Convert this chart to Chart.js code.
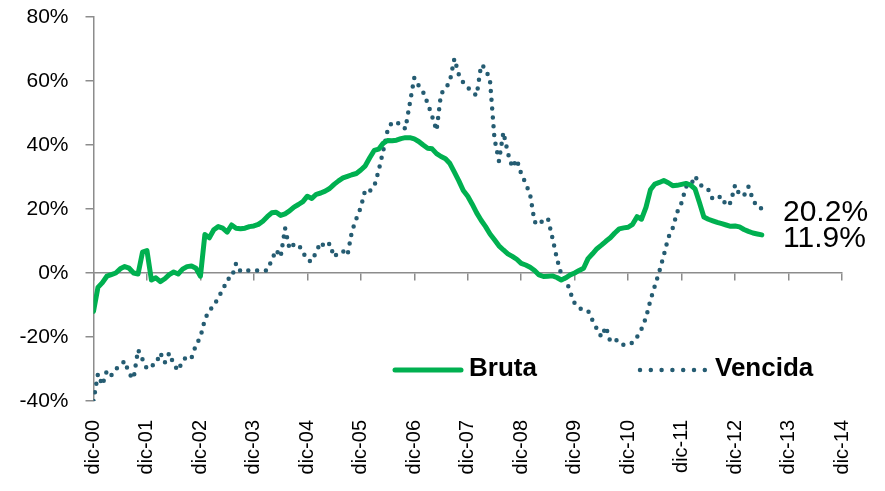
<!DOCTYPE html>
<html>
<head>
<meta charset="utf-8">
<script src="https://cdn.jsdelivr.net/npm/chart.js@4/dist/chart.umd.min.js"></script>
<style>
  html, body { margin: 0; padding: 0; background: #ffffff; }
  #wrap { width: 885px; height: 491px; }
</style>
</head>
<body>
<div id="wrap"><canvas id="c" width="885" height="491"></canvas></div>
<script>
// Monthly series, dic-00 (index 0) to jun-13 (index 150)
const tickLabels = ['dic-00','dic-01','dic-02','dic-03','dic-04','dic-05','dic-06','dic-07','dic-08','dic-09','dic-10','dic-11','dic-12','dic-13','dic-14'];
const seriesNames = ['Bruta', 'Vencida'];
const bruta = [
  -12, -4.5, -3, -1, -0.5, 0, 1.3, 2, 1.5, 0, -0.3, 6.5,
  7, -2.2, -1.5, -2.7, -1.8, -0.5, 0.3, -0.3, 1.2, 2, 2.2, 1.5,
  -1, 12, 11, 13.5, 14.5, 14, 12.8, 15, 14, 13.8, 14, 14.5,
  14.7, 15.2, 16.2, 17.6, 18.8, 19, 18, 18.5, 19.4, 20.6, 21.4, 22.3,
  24, 23.3, 24.6, 25, 25.6, 26.4, 27.7, 28.8, 29.7, 30.2, 30.7, 31.1,
  32.2, 33.5, 36, 38.3, 38.7, 40.5, 41.4, 41.3, 41.5, 42, 42.3, 42.3,
  41.9, 41.1, 40, 39, 38.8, 37.3, 36.4, 35.7, 34.2, 31.5, 28.8, 25.8,
  24, 21.5, 18.8, 16.5, 14.5, 12.2, 10.4, 8.5, 7.2, 6, 5.2, 4.3,
  3, 2.5, 1.8, 0.8, -0.6, -1.1, -1, -0.9, -1.4, -2.2, -1.5, -0.6,
  0, 0.8, 1.5, 4.5, 6, 7.6, 8.7, 9.9, 11, 12.5, 13.8, 14.1,
  14.3, 15.2, 17.6, 16.8, 20.5, 26, 27.8, 28.3, 28.9, 28.2, 27.3, 27.4,
  27.7, 28, 27.5, 26.3, 22, 17.5, 16.8, 16.3, 15.8, 15.4, 15, 14.6,
  14.7, 14.4, 13.6, 13, 12.5, 12.2, 11.9
];
const vencida = [
  -40, -31.5, -35, -30.5, -32, -30, -29, -27.5, -31.5, -33, -24, -27,
  -30, -29, -28.5, -25, -28, -25, -28.5, -30.5, -27.5, -26, -26.5, -22.5,
  -20, -14.5, -11.5, -10.5, -7.5, -5.5, -2, -1.5, 3, 0.5, 0.7, 0.8,
  0.8, 0.8, 0.8, 0.8, 4, 7.2, 5, 14, 7.5, 9, 9, 6.5,
  4, 3.6, 6.7, 9.6, 8, 9.2, 5, 6.5, 6.8, 5.5, 13, 17,
  20.5, 26, 25.6, 27, 32, 38, 44.5, 47.2, 46.8, 46.7, 45, 53,
  61, 58.5, 56.5, 53, 49, 44.5, 56, 57.5, 60, 67, 62, 59.5,
  58, 56.5, 55.5, 65, 64, 60, 42, 35, 44, 37.5, 33, 35.5,
  31, 28, 24.5, 16, 15, 16.7, 17, 11, 4.6, -0.5, -1.8, -6,
  -9.5, -11, -11.5, -11.8, -14.8, -17.5, -20, -16.8, -21.5, -21, -21, -22.5,
  -22.3, -21.8, -20, -17.5, -14, -8.5, -4, 0.5, 5.5, 11, 14, 19,
  22, 27, 27.2, 30.3, 28, 26.5, 26, 23, 23.5, 24, 21, 22,
  27.5, 24.5, 24.2, 27, 23, 20.5, 20.2
];
const yTicks = { min: -40, max: 80, step: 20 };

const FONT = "'Liberation Sans', Arial, sans-serif";
const GREEN = '#00B050';
const TEAL = '#255C72';
const AXIS = '#8C8C8C';

const toPoints = arr => arr.map((v, i) => ({ x: i, y: v }));

const legendAndEndLabels = {
  id: 'legendAndEndLabels',
  afterDraw(chart) {
    const ctx = chart.ctx;
    const ds = chart.data.datasets;
    ctx.save();
    // Legend: Bruta
    ctx.strokeStyle = ds[0].borderColor;
    ctx.lineWidth = 5;
    ctx.lineCap = 'round';
    ctx.setLineDash([]);
    ctx.beginPath(); ctx.moveTo(395, 370); ctx.lineTo(461, 370); ctx.stroke();
    // Legend: Vencida
    ctx.strokeStyle = ds[1].borderColor;
    ctx.lineWidth = 4.5;
    ctx.setLineDash([0, 10.8]);
    ctx.beginPath(); ctx.moveTo(640, 370); ctx.lineTo(706, 370); ctx.stroke();
    ctx.setLineDash([]);
    ctx.fillStyle = '#000';
    ctx.font = "bold 26px " + FONT;
    ctx.textBaseline = 'middle';
    ctx.textAlign = 'left';
    ctx.fillText(ds[0].label, 469, 369);
    ctx.fillText(ds[1].label, 715, 369);
    // End value labels
    ctx.font = "30px " + FONT;
    ctx.textBaseline = 'alphabetic';
    const lastV = vencida[vencida.length - 1];
    const lastB = bruta[bruta.length - 1];
    ctx.fillText(lastV.toFixed(1) + '%', 783, 221);
    ctx.fillText(lastB.toFixed(1) + '%', 783, 247);
    ctx.restore();
  }
};

new Chart(document.getElementById('c'), {
  type: 'line',
  data: {
    datasets: [
      {
        label: seriesNames[0],
        data: toPoints(bruta),
        borderColor: GREEN,
        backgroundColor: GREEN,
        borderWidth: 5,
        borderJoinStyle: 'round',
        borderCapStyle: 'round',
        pointRadius: 0,
        tension: 0,
        order: 1
      },
      {
        label: seriesNames[1],
        data: toPoints(vencida),
        borderColor: TEAL,
        backgroundColor: TEAL,
        borderWidth: 4.5,
        borderDash: [0, 8.8],
        borderCapStyle: 'round',
        borderJoinStyle: 'round',
        pointRadius: 0,
        tension: 0,
        order: 2
      }
    ]
  },
  options: {
    responsive: false,
    devicePixelRatio: 1,
    animation: false,
    layout: { padding: { left: 0, top: 17, right: 42, bottom: 0 } },
    plugins: {
      legend: { display: false },
      tooltip: { enabled: false }
    },
    scales: {
      x: {
        type: 'linear',
        position: 'bottom',
        min: 0,
        max: 168,
        grid: { display: false, drawTicks: false },
        border: { display: false },
        ticks: {
          stepSize: 12,
          autoSkip: false,
          minRotation: 90,
          maxRotation: 90,
          padding: 19,
          color: '#000',
          font: { family: FONT, size: 20 },
          callback: v => tickLabels[Math.round(v / 12)] || ''
        },
        afterFit: s => { s.height = 90; }
      },
      x0: {
        type: 'linear',
        axis: 'x',
        position: { y: 0 },
        min: 0,
        max: 168,
        grid: { drawOnChartArea: false, drawTicks: true, tickLength: 7, color: AXIS, lineWidth: 1.5 },
        border: { display: true, color: AXIS, width: 1.5 },
        ticks: { stepSize: 12, display: false }
      },
      y: {
        type: 'linear',
        position: 'left',
        min: yTicks.min,
        max: yTicks.max,
        grid: { drawOnChartArea: false, drawTicks: true, tickLength: 8, color: AXIS, lineWidth: 1.5 },
        border: { display: true, color: AXIS, width: 1.5 },
        ticks: {
          stepSize: yTicks.step,
          padding: 17,
          color: '#000',
          font: { family: FONT, size: 21 },
          callback: v => v + '%'
        },
        afterFit: s => { s.width = 93.5; s.paddingTop = 12; s.paddingBottom = 12; }
      }
    }
  },
  plugins: [legendAndEndLabels]
});
</script>
</body>
</html>
